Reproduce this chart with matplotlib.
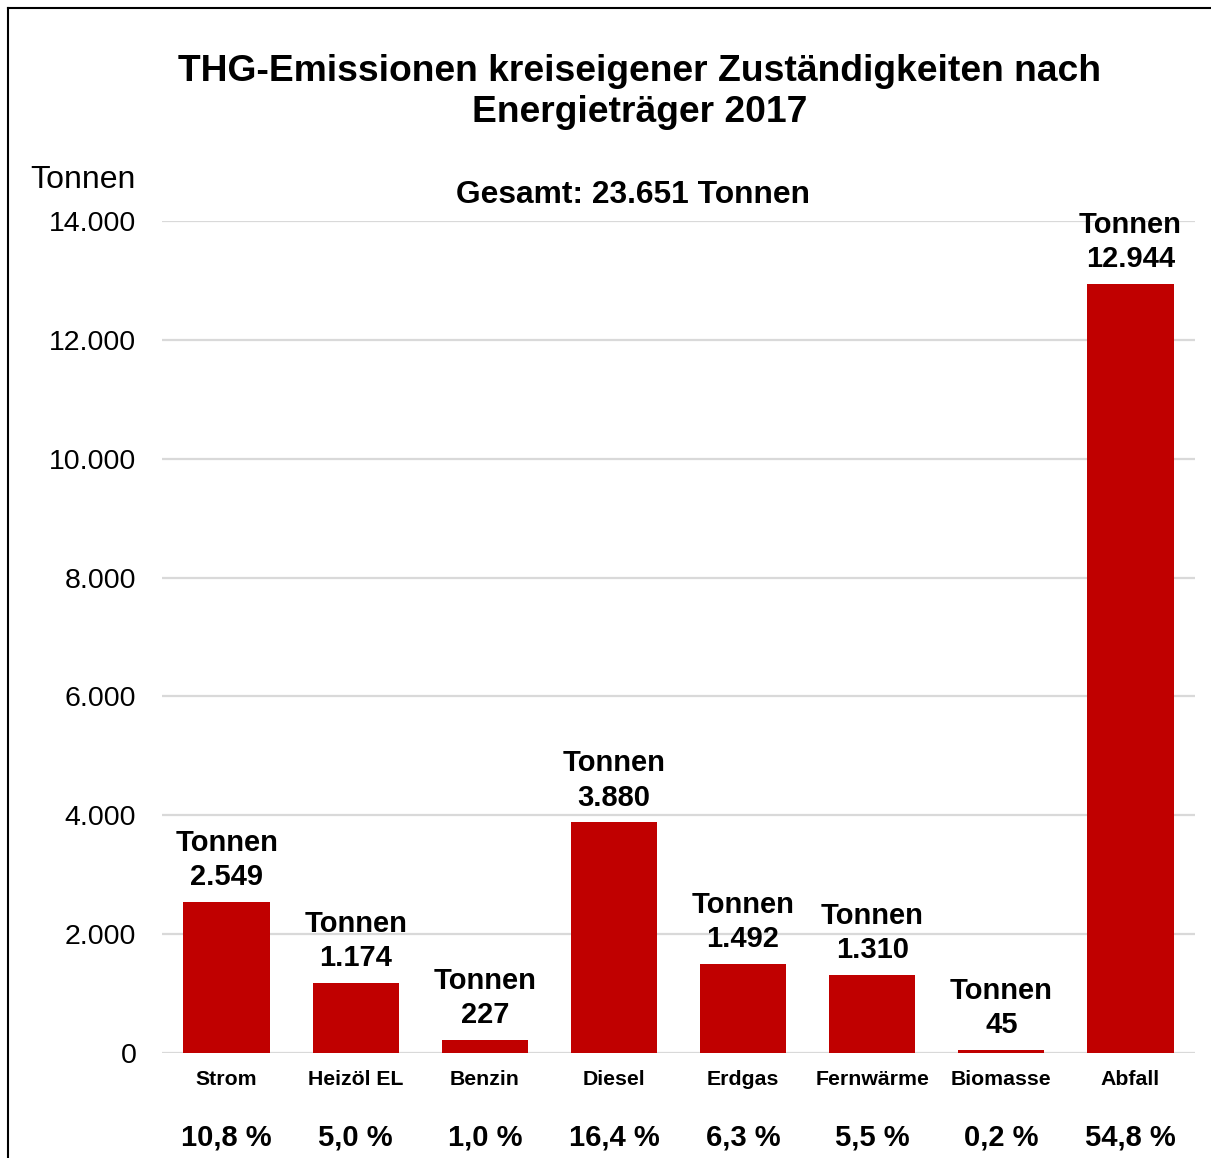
import matplotlib
matplotlib.use("Agg")
import matplotlib.pyplot as plt
from matplotlib.lines import Line2D

plt.rcParams['font.family'] = ['Liberation Sans', 'DejaVu Sans']

# data
categories = ["Strom", "Heizöl EL", "Benzin", "Diesel", "Erdgas", "Fernwärme", "Biomasse", "Abfall"]
tonnen = [2549, 1174, 227, 3880, 1492, 1310, 45, 12944]
anteile = ["10,8 %", "5,0 %", "1,0 %", "16,4 %", "6,3 %", "5,5 %", "0,2 %", "54,8 %"]
yticks = [0, 2000, 4000, 6000, 8000, 10000, 12000, 14000]
gesamt = "Gesamt: 23.651 Tonnen"
title = "THG-Emissionen kreiseigener Zuständigkeiten nach\nEnergieträger 2017"


def de_num(v):
    return f"{v:,.0f}".replace(",", ".")


W, H = 1211, 1158
fig = plt.figure(figsize=(W / 100, H / 100), dpi=100)
ax = fig.add_axes([162 / W, (H - 1053) / H, 1033 / W, 832 / H])

x = list(range(len(categories)))
ax.bar(x, tonnen, width=0.667, color="#C00000", zorder=3)

ax.set_xlim(-0.5, len(categories) - 0.5)
ax.set_ylim(0, 14000)
ax.set_yticks(yticks)
ax.set_yticklabels([de_num(v) for v in yticks], fontsize=20.5)
ax.tick_params(axis="y", length=0, pad=18.5)
ax.set_xticks(x)
ax.set_xticklabels(categories, fontsize=15.3, fontweight="bold")
ax.tick_params(axis="x", length=0, pad=12.5)
ax.grid(axis="y", color="#d9d9d9", linewidth=1.6, zorder=0)
for s in ax.spines.values():
    s.set_visible(False)

# value labels above bars
for xi, v in zip(x, tonnen):
    ax.annotate(f"Tonnen\n{de_num(v)}", (xi, v), xytext=(0, 7.8), textcoords="offset points",
                ha="center", va="bottom", fontsize=21, fontweight="bold",
                linespacing=1.28, annotation_clip=False, zorder=4)

# percentage row
for xi, p in zip(x, anteile):
    ax.text(xi, -0.101, p, transform=ax.get_xaxis_transform(), ha="center", va="center",
            fontsize=21, fontweight="bold")

ax.text(-0.0252, 1.0495, "Tonnen", transform=ax.transAxes, ha="right", va="center", fontsize=23)
ax.text(0.456, 1.031, gesamt, transform=ax.transAxes, ha="center", va="center",
        fontsize=22.9, fontweight="bold")

fig.text(640 / W, 1 - 92 / H, title, ha="center", va="center", fontsize=26.8,
         fontweight="bold", linespacing=1.25)

# frame (left and top edge visible)
fig.add_artist(Line2D([8 / W, 8 / W], [0, 1 - 8 / H], color="black", linewidth=1.5))
fig.add_artist(Line2D([8 / W, 1], [1 - 8 / H, 1 - 8 / H], color="black", linewidth=1.5))

fig.savefig("out.png", dpi=100)
